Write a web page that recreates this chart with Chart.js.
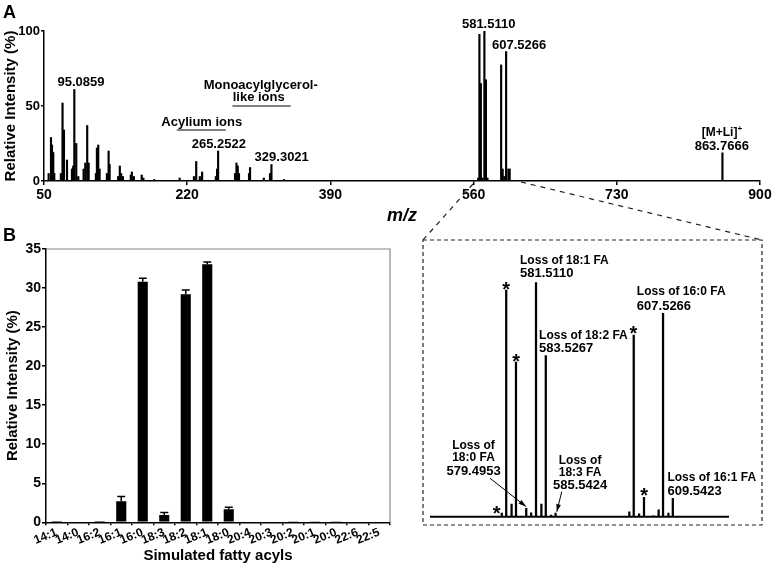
<!DOCTYPE html>
<html>
<head>
<meta charset="utf-8">
<script src="https://cdn.jsdelivr.net/npm/chart.js@4.4.1/dist/chart.umd.min.js"></script>
<style>
  body { margin: 0; background: #fff; }
  #wrap { position: relative; width: 774px; height: 567px; overflow: hidden; }
  canvas { position: absolute; }
  .panel { position: absolute; font: bold 18px 'Liberation Sans', Arial, sans-serif; line-height: 20px; }
</style>
</head>
<body>
<div id="wrap">
  <canvas id="spectrum" width="774" height="232" style="left:0;top:0"></canvas>
  <canvas id="acyls" width="420" height="335" style="left:0;top:232px"></canvas>
  <canvas id="inset" width="354" height="350" style="left:420px;top:180px"></canvas>
  <div class="panel" style="left:3px;top:2px">A</div>
  <div class="panel" style="left:3px;top:225px">B</div>
</div>
<script>
// panel A: full spectrum (m/z, relative intensity %)
const specMz = [55.5, 58.3, 59.5, 61, 62.2, 70, 72, 73.7, 77.3, 83.2, 84.7, 86, 88.3, 90.7,
  97, 99, 101.3, 103, 111.6, 112.8, 114.4, 116, 124.7, 126.7, 127.9, 138, 140, 141.6, 143.7,
  153, 154.3, 156.7, 166, 168, 180.8, 211, 228, 230.7, 235, 237.7, 254, 255.5, 256.7,
  276.8, 278.5, 280, 281.5, 293.4, 294.6, 311, 318.3, 320, 335,
  565.5, 566.9, 568.6, 570.5, 572.8, 574.6, 576.5, 592.7, 594.5, 596.5, 598.6, 601.3, 602.8, 855.4]
const specPct = [5, 29, 24, 19, 5, 5, 52, 34, 14, 8, 10, 61, 25, 3,
  8, 12, 37, 12, 5, 22, 24, 8, 5, 20, 11, 3, 10, 5, 3,
  4, 6, 3, 4, 2, 1, 2, 3, 13, 3, 6, 3, 8, 20,
  5, 12, 10, 5, 5, 9, 2, 5, 11, 1,
  2, 97.8, 65, 2, 100, 67.5, 2, 77.4, 8, 3, 86.3, 8, 8, 18.8]

// panel B: simulated fatty acyls
const acyls = ['14:1', '14:0', '16:2', '16:1', '16:0', '18:3', '18:2', '18:1', '18:0',
  '20:4', '20:3', '20:2', '20:1', '20:0', '22:6', '22:5']
const acylMean = [0.05, 0.1, 0.05, 2.7, 30.8, 0.95, 29.2, 33.05, 1.68, 0, 0.1, 0.08, 0.08, 0.06, 0, 0]
const acylErr = [0, 0, 0, 0.6, 0.45, 0.3, 0.55, 0.3, 0.25, 0, 0, 0, 0, 0, 0, 0]

// inset: zoom on m/z 560-621
const insetMz = [574.5, 575.4, 576.5, 577.4, 579.5, 580.5, 581.5, 582.6, 583.5, 584.6, 585.5,
  600.6, 601.5, 602.6, 603.6, 605.5, 606.6, 607.5, 608.6, 609.5]
const insetPct = [1.5, 96.7, 5.4, 66, 3.6, 1.7, 100, 5.4, 68.7, 0.7, 1.5,
  2.1, 77.5, 1.2, 8.3, 0.4, 2.9, 86.8, 1.5, 7.8]

const FONT = "'Liberation Sans', Arial, sans-serif"
Chart.defaults.font.family = FONT
Chart.defaults.color = '#000'

// [text, m/z, %, size]
const specNotes = [
  ['95.0859', 93.9, 65.5, 13],
  ['Monoacylglycerol-', 307.3, 64, 13],
  ['like ions', 304.9, 55.7, 13],
  ['Acylium ions', 237.3, 39.3, 13],
  ['265.2522', 257.5, 24.3, 13],
  ['329.3021', 332.2, 15.5, 13],
  ['581.5110', 577.9, 104.7, 13],
  ['607.5266', 614, 90.7, 13],
  ['863.7666', 854.6, 22.9, 13]
]
const specRules = [[273.7, 342.8, 50], [207.7, 265.8, 34]]

const specLabels = {
  id: 'specLabels',
  afterDatasetsDraw(chart) {
    const {ctx, scales: {x, y}} = chart
    ctx.save()
    ctx.fillStyle = '#000'
    ctx.textAlign = 'center'
    ctx.textBaseline = 'middle'
    specNotes.forEach(n => {
      ctx.font = 'bold ' + n[3] + 'px ' + FONT
      ctx.fillText(n[0], x.getPixelForValue(n[1]), y.getPixelForValue(n[2]))
    })
    // [M+Li]+ with superscript
    const cx = x.getPixelForValue(855), cy = y.getPixelForValue(32)
    ctx.font = 'bold 12px ' + FONT
    const w = ctx.measureText('[M+Li]').width
    ctx.textAlign = 'left'
    ctx.fillText('[M+Li]', cx - (w + 5) / 2, cy)
    ctx.font = 'bold 8px ' + FONT
    ctx.fillText('+', cx - (w + 5) / 2 + w, cy - 4)
    ctx.strokeStyle = '#000'
    ctx.lineWidth = 1
    specRules.forEach(r => {
      ctx.beginPath()
      ctx.moveTo(x.getPixelForValue(r[0]), y.getPixelForValue(r[2]))
      ctx.lineTo(x.getPixelForValue(r[1]), y.getPixelForValue(r[2]))
      ctx.stroke()
    })
    ctx.restore()
  }
}

new Chart(document.getElementById('spectrum'), {
  type: 'bar',
  data: {
    datasets: [{
      data: specMz.map((m, i) => ({x: m, y: specPct[i]})),
      backgroundColor: '#000',
      barThickness: 1.5
    }]
  },
  options: {
    responsive: false,
    animation: false,
    layout: {padding: {left: 0, right: 14, top: 31, bottom: 1}},
    plugins: {legend: {display: false}, tooltip: {enabled: false}},
    scales: {
      x: {
        type: 'linear', min: 50, max: 900, offset: false,
        ticks: {stepSize: 170, autoSkip: false, maxRotation: 0, padding: 2, font: {size: 14, weight: 'bold'}},
        grid: {display: true, offset: false, drawOnChartArea: false, tickLength: 4, color: '#000', lineWidth: 1.5},
        border: {color: '#000', width: 1.5},
        title: {display: true, text: 'm/z', font: {size: 18, weight: 'bold', style: 'italic'}},
        afterFit(s) { s.height = 50 }
      },
      y: {
        min: 0, max: 100,
        ticks: {stepSize: 50, padding: 1, font: {size: 13, weight: 'bold'}},
        grid: {display: true, drawOnChartArea: false, tickLength: 3, color: '#000', lineWidth: 1.5},
        border: {color: '#000', width: 1.5},
        title: {display: true, text: 'Relative Intensity (%)', padding: {top: 2, bottom: 0}, font: {size: 15, weight: 'bold'}},
        afterFit(s) { s.width = 44 }
      }
    }
  },
  plugins: [specLabels]
})

// error bars + grey frame for panel B
const acylExtras = {
  id: 'acylExtras',
  afterDatasetsDraw(chart) {
    const {ctx, chartArea: a, scales: {y}} = chart
    const bars = chart.getDatasetMeta(0).data
    ctx.save()
    ctx.strokeStyle = '#000'
    ctx.lineWidth = 1.5
    bars.forEach((b, i) => {
      if (!acylErr[i]) return
      const top = y.getPixelForValue(acylMean[i] + acylErr[i])
      ctx.beginPath()
      ctx.moveTo(b.x, b.y)
      ctx.lineTo(b.x, top)
      ctx.moveTo(b.x - 4, top)
      ctx.lineTo(b.x + 4, top)
      ctx.stroke()
    })
    ctx.strokeStyle = '#888'
    ctx.lineWidth = 1.2
    ctx.beginPath()
    ctx.moveTo(a.left, a.top)
    ctx.lineTo(a.right, a.top)
    ctx.lineTo(a.right, a.bottom)
    ctx.stroke()
    ctx.restore()
  }
}

new Chart(document.getElementById('acyls'), {
  type: 'bar',
  data: {
    labels: acyls,
    datasets: [{data: acylMean, backgroundColor: '#000', barPercentage: 0.47, categoryPercentage: 1}]
  },
  options: {
    responsive: false,
    animation: false,
    layout: {padding: {left: 0, right: 30, top: 17, bottom: 0}},
    plugins: {legend: {display: false}, tooltip: {enabled: false}},
    scales: {
      x: {
        ticks: {autoSkip: false, minRotation: 22, maxRotation: 22, padding: 0, font: {size: 12, weight: 'bold'}},
        grid: {display: true, drawOnChartArea: false, tickLength: 3, color: '#000', lineWidth: 1.5},
        border: {color: '#000', width: 1.5},
        title: {display: true, text: 'Simulated fatty acyls', padding: {top: 0, bottom: 2}, font: {size: 15, weight: 'bold'}},
        afterFit(s) { s.height = 44.7 }
      },
      y: {
        min: 0, max: 35,
        ticks: {stepSize: 5, padding: 1, font: {size: 14, weight: 'bold'}},
        grid: {display: true, drawOnChartArea: false, tickLength: 4, color: '#000', lineWidth: 1.5},
        border: {color: '#000', width: 1.5},
        title: {display: true, text: 'Relative Intensity (%)', padding: {top: 4, bottom: 0}, font: {size: 15, weight: 'bold'}},
        afterFit(s) { s.width = 46 }
      }
    }
  },
  plugins: [acylExtras]
})

// inset annotations: [text, m/z, %, size, align]
const insetNotes = [
  ['Loss of 18:1 FA', 578.23, 109.3, 12, 'left'],
  ['581.5110', 578.23, 104.0, 13, 'left'],
  ['Loss of 16:0 FA', 602.14, 96.1, 12, 'left'],
  ['607.5266', 602.14, 89.9, 13, 'left'],
  ['Loss of 18:2 FA', 582.13, 77.4, 12, 'left'],
  ['583.5267', 582.13, 72.0, 13, 'left'],
  ['Loss of', 568.71, 30.5, 12, 'center'],
  ['18:0 FA', 568.71, 25.0, 12, 'center'],
  ['579.4953', 568.71, 19.4, 13, 'center'],
  ['Loss of', 590.52, 24.0, 12, 'center'],
  ['18:3 FA', 590.52, 18.6, 12, 'center'],
  ['585.5424', 590.52, 13.3, 13, 'center'],
  ['Loss of 16:1 FA', 608.4, 16.5, 12, 'left'],
  ['609.5423', 608.4, 10.8, 13, 'left']
]
const insetStars = [[575.37, 98.9], [577.41, 68.1], [601.44, 80.1], [573.46, 3.3], [603.63, 11.0]]
const insetArrows = [[572.09, 16.4, 579.46, 4.3], [586.77, 10.7, 585.75, 2.1]]

const insetExtras = {
  id: 'insetExtras',
  afterDatasetsDraw(chart) {
    const {ctx, chartArea: a, scales: {x, y}} = chart
    ctx.save()
    // dashed box and connectors to the main axis
    ctx.strokeStyle = '#222'
    ctx.lineWidth = 1.2
    ctx.setLineDash([4, 3])
    ctx.strokeRect(3, 60, 339, 285)
    ctx.setLineDash([5, 5])
    ctx.beginPath()
    ctx.moveTo(53, 4)
    ctx.lineTo(3, 60)
    ctx.moveTo(101, 2)
    ctx.lineTo(342, 60)
    ctx.stroke()
    ctx.setLineDash([])
    // baseline
    ctx.strokeStyle = '#000'
    ctx.lineWidth = 2
    ctx.beginPath()
    ctx.moveTo(a.left, y.getPixelForValue(0))
    ctx.lineTo(a.right, y.getPixelForValue(0))
    ctx.stroke()
    // labels
    ctx.fillStyle = '#000'
    ctx.textBaseline = 'middle'
    insetNotes.forEach(n => {
      ctx.font = 'bold ' + n[3] + 'px ' + FONT
      ctx.textAlign = n[4]
      ctx.fillText(n[0], x.getPixelForValue(n[1]), y.getPixelForValue(n[2]))
    })
    ctx.font = 'bold 20px ' + FONT
    ctx.textAlign = 'center'
    ctx.textBaseline = 'alphabetic'
    insetStars.forEach(s => ctx.fillText('*', x.getPixelForValue(s[0]), y.getPixelForValue(s[1]) + 11))
    // arrows
    ctx.lineWidth = 1
    insetArrows.forEach(r => {
      const x0 = x.getPixelForValue(r[0]), y0 = y.getPixelForValue(r[1])
      const x1 = x.getPixelForValue(r[2]), y1 = y.getPixelForValue(r[3])
      const ang = Math.atan2(y1 - y0, x1 - x0)
      ctx.beginPath()
      ctx.moveTo(x0, y0)
      ctx.lineTo(x1, y1)
      ctx.stroke()
      ctx.beginPath()
      ctx.moveTo(x1, y1)
      ctx.lineTo(x1 - 8 * Math.cos(ang - 0.3), y1 - 8 * Math.sin(ang - 0.3))
      ctx.lineTo(x1 - 8 * Math.cos(ang + 0.3), y1 - 8 * Math.sin(ang + 0.3))
      ctx.closePath()
      ctx.fill()
    })
    ctx.restore()
  }
}

new Chart(document.getElementById('inset'), {
  type: 'bar',
  data: {
    datasets: [{
      data: insetMz.map((m, i) => ({x: m, y: insetPct[i]})),
      backgroundColor: '#000',
      barThickness: 1.6
    }]
  },
  options: {
    responsive: false,
    animation: false,
    layout: {padding: {left: 10, right: 45, top: 102.3, bottom: 13.3}},
    plugins: {legend: {display: false}, tooltip: {enabled: false}},
    scales: {
      x: {type: 'linear', min: 559.8, max: 621, offset: false, display: false, grid: {offset: false}},
      y: {min: 0, max: 100, display: false}
    }
  },
  plugins: [insetExtras]
})
</script>
</body>
</html>
